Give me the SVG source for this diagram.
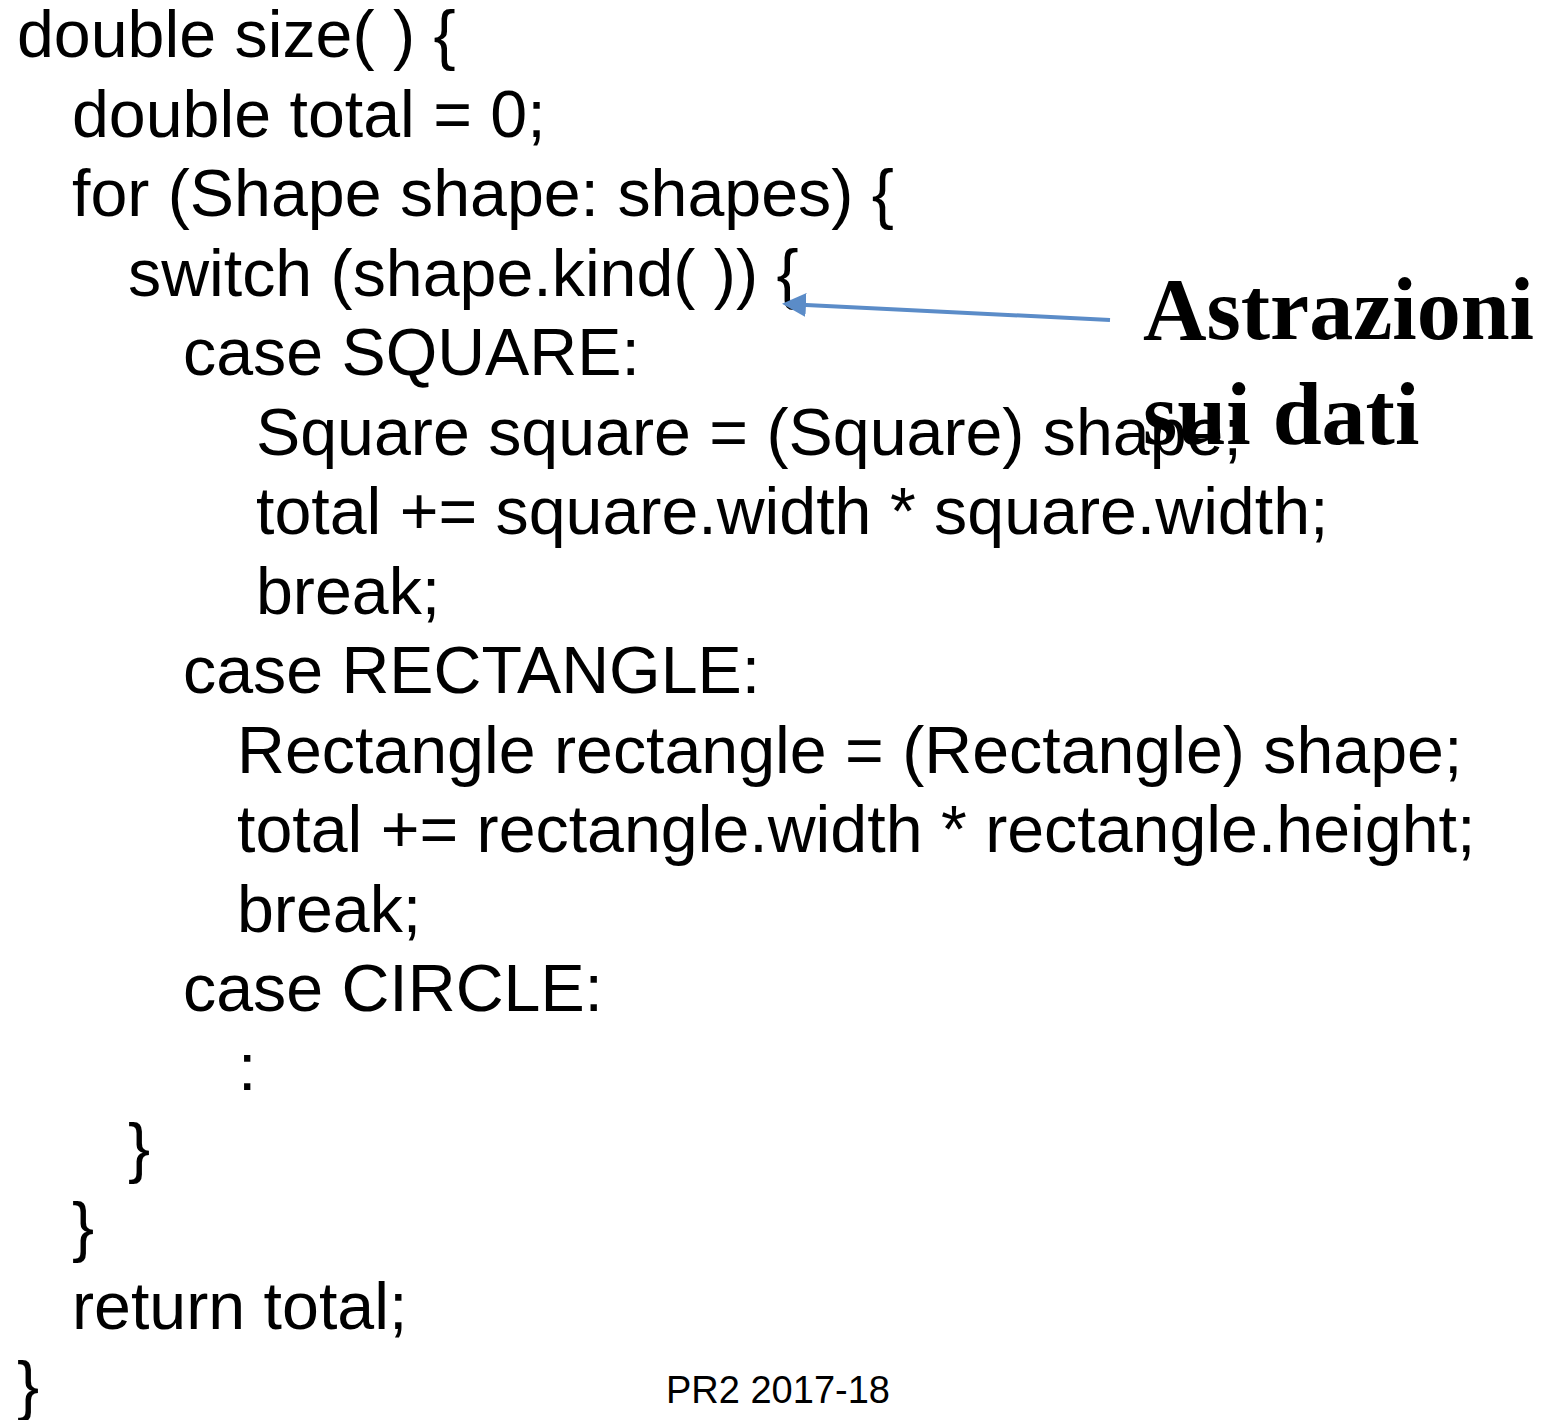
<svg xmlns="http://www.w3.org/2000/svg" width="1543" height="1420" viewBox="0 0 1543 1420">
<style>
.code{font-family:"Liberation Sans",Arial,sans-serif;font-size:66.3px;fill:#000}
.title{font-family:"Liberation Serif","Times New Roman",serif;font-size:88px;font-weight:bold;fill:#000}
.foot{font-family:"Liberation Sans",Arial,sans-serif;font-size:38px;fill:#000}
.conn{stroke:#5B8CC8;stroke-width:4;fill:none}
</style>
<defs>
<marker id="ah" markerWidth="6" markerHeight="6" refX="5" refY="3" orient="auto" markerUnits="strokeWidth">
<path d="M0,0 L6,3 L0,6 Z" fill="#5B8CC8"/>
</marker>
</defs>
<rect width="1543" height="1420" fill="#fff"/>
<g id="code">
<text class="code" x="17" y="57">double size( ) {</text>
<text class="code" x="72" y="137">double total = 0;</text>
<text class="code" x="72" y="216">for (Shape shape: shapes) {</text>
<text class="code" x="128" y="296">switch (shape.kind( )) {</text>
<text class="code" x="183" y="375">case SQUARE:</text>
<text class="code" x="256" y="455">Square square = (Square) shape;</text>
<text class="code" x="256" y="534">total += square.width * square.width;</text>
<text class="code" x="256" y="614">break;</text>
<text class="code" x="183" y="693">case RECTANGLE:</text>
<text class="code" x="237" y="773">Rectangle rectangle = (Rectangle) shape;</text>
<text class="code" x="237" y="852">total += rectangle.width * rectangle.height;</text>
<text class="code" x="237" y="932">break;</text>
<text class="code" x="183" y="1011">case CIRCLE:</text>
<text class="code" x="238" y="1090">:</text>
<text class="code" x="128" y="1170">}</text>
<text class="code" x="72" y="1249">}</text>
<text class="code" x="72" y="1329">return total;</text>
<text class="code" x="17" y="1408">}</text>
</g>
<g id="label">
<text class="title" x="1143" y="339">Astrazioni</text>
<text class="title" x="1143" y="444">sui dati</text>
</g>
<g id="footer">
<text class="foot" x="666" y="1403">PR2 2017-18</text>
</g>
<g id="connectors">
<line class="conn" x1="1110" y1="320" x2="786" y2="304" marker-end="url(#ah)"/>
</g>
</svg>
